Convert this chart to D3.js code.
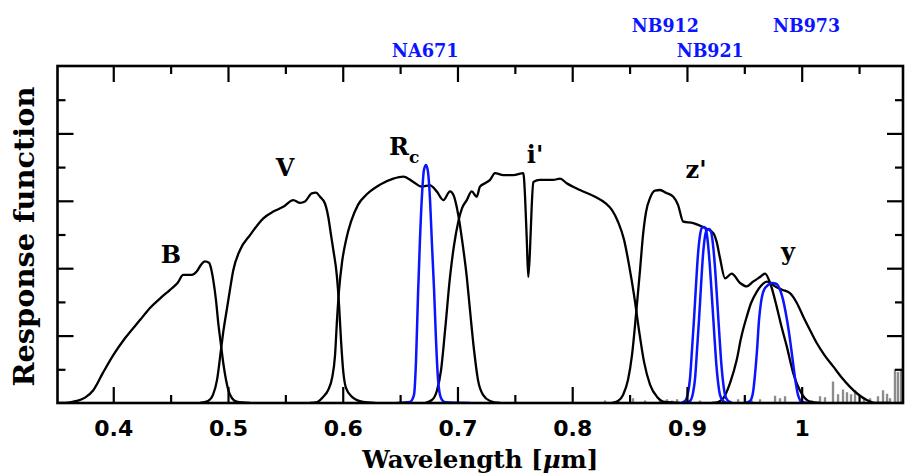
<!DOCTYPE html>
<html lang="en">
<head>
<meta charset="utf-8">
<title>Filter response functions</title>
<script src="https://d3js.org/d3.v7.min.js"></script>
<style>
  body { margin: 0; background: #fff; }
</style>
</head>
<body>
<script>
// Width and height
var w = 906, h = 474;
var plot = { l: 57.5, r: 903, t: 66, b: 403 };

// Data: [wavelength (um), response]
var bandB = [[0.3520,0],[0.3623,0.001],[0.3681,0.003],[0.3754,0.008],[0.3826,0.019],[0.3911,0.045],[0.4000,0.071],[0.4102,0.096],[0.4233,0.123],[0.4320,0.141],[0.4407,0.155],[0.4495,0.168],[0.4560,0.178],[0.4610,0.190],[0.4684,0.190],[0.4727,0.195],[0.4765,0.205],[0.4800,0.210],[0.4834,0.208],[0.4856,0.197],[0.4872,0.182],[0.4895,0.153],[0.4915,0.119],[0.4939,0.086],[0.4959,0.059],[0.4983,0.034],[0.5003,0.019],[0.5035,0.007],[0.5076,0.002],[0.5192,0]];
var bandV = [[0.4756,0],[0.4826,0.003],[0.4869,0.012],[0.4904,0.034],[0.4939,0.079],[0.4961,0.108],[0.4989,0.138],[0.5017,0.168],[0.5046,0.197],[0.5105,0.227],[0.5192,0.249],[0.5308,0.274],[0.5395,0.284],[0.5482,0.291],[0.5569,0.301],[0.5628,0.297],[0.5671,0.299],[0.5730,0.311],[0.5767,0.312],[0.5802,0.306],[0.5845,0.296],[0.5874,0.276],[0.5898,0.249],[0.5918,0.227],[0.5948,0.190],[0.5968,0.145],[0.5985,0.093],[0.6005,0.046],[0.6029,0.022],[0.6081,0.009],[0.6177,0.0015],[0.6281,0]];
var bandRc = [[0.5715,0],[0.5776,0.0015],[0.5829,0.009],[0.5872,0.019],[0.5907,0.037],[0.5933,0.071],[0.5950,0.123],[0.5968,0.168],[0.5994,0.209],[0.6029,0.242],[0.6072,0.269],[0.6133,0.294],[0.6212,0.310],[0.6325,0.324],[0.6441,0.333],[0.6528,0.336],[0.6615,0.328],[0.6688,0.321],[0.6761,0.323],[0.6819,0.314],[0.6877,0.301],[0.6935,0.314],[0.6964,0.309],[0.7007,0.279],[0.7040,0.242],[0.7081,0.187],[0.7109,0.138],[0.7144,0.079],[0.7179,0.034],[0.7223,0.012],[0.7284,0.003],[0.7371,0]];
var bandI = [[0.6717,0],[0.6778,0.0045],[0.6822,0.019],[0.6857,0.049],[0.6892,0.108],[0.6935,0.187],[0.6970,0.234],[0.7007,0.269],[0.7040,0.289],[0.7081,0.301],[0.7124,0.314],[0.7168,0.306],[0.7196,0.321],[0.7240,0.326],[0.7284,0.331],[0.7327,0.341],[0.7400,0.338],[0.7487,0.338],[0.7574,0.341],[0.7589,0.306],[0.7604,0.242],[0.7617,0.187],[0.7632,0.227],[0.7647,0.292],[0.7661,0.328],[0.7719,0.331],[0.7835,0.331],[0.7894,0.333],[0.7952,0.326],[0.8068,0.316],[0.8199,0.306],[0.8286,0.297],[0.8347,0.286],[0.8399,0.269],[0.8452,0.242],[0.8495,0.205],[0.8539,0.160],[0.8582,0.108],[0.8626,0.061],[0.8679,0.027],[0.8740,0.009],[0.8809,0.0015],[0.8940,0]];
var bandZ = [[0.8347,0],[0.8399,0.003],[0.8443,0.012],[0.8486,0.034],[0.8521,0.071],[0.8556,0.131],[0.8591,0.197],[0.8617,0.249],[0.8643,0.283],[0.8678,0.304],[0.8722,0.315],[0.8765,0.316],[0.8817,0.312],[0.8881,0.306],[0.8922,0.294],[0.8968,0.269],[0.9055,0.267],[0.9140,0.261],[0.9230,0.252],[0.9259,0.239],[0.9288,0.215],[0.9332,0.185],[0.9390,0.192],[0.9463,0.178],[0.9521,0.173],[0.9576,0.180],[0.9637,0.187],[0.9681,0.192],[0.9725,0.178],[0.9782,0.143],[0.9820,0.116],[0.9870,0.084],[0.9927,0.044],[1.0000,0.014],[1.0073,0.002],[1.0160,0]];
var bandY = [[0.9219,0],[0.9271,0.0015],[0.9317,0.007],[0.9376,0.030],[0.9434,0.064],[0.9471,0.096],[0.9521,0.128],[0.9558,0.148],[0.9608,0.165],[0.9646,0.174],[0.9695,0.180],[0.9733,0.178],[0.9768,0.173],[0.9829,0.168],[0.9898,0.163],[0.9959,0.148],[1.0014,0.128],[1.0073,0.108],[1.0131,0.089],[1.0203,0.070],[1.0276,0.054],[1.0343,0.039],[1.0421,0.024],[1.0491,0.013],[1.0567,0.0045],[1.0654,0],[1.0770,0]];

var na671 = [[0.6473,0],[0.6586,0.0015],[0.6621,0.012],[0.6639,0.064],[0.6656,0.160],[0.6673,0.242],[0.6691,0.309],[0.6708,0.346],[0.6726,0.353],[0.6743,0.343],[0.6761,0.301],[0.6778,0.234],[0.6796,0.168],[0.6813,0.093],[0.6831,0.034],[0.6857,0.007],[0.6892,0.001],[0.7109,0]];
var nb912 = [[0.8948,0],[0.8983,0.003],[0.9009,0.015],[0.9027,0.037],[0.9044,0.079],[0.9062,0.126],[0.9079,0.175],[0.9096,0.220],[0.9114,0.249],[0.9131,0.260],[0.9149,0.261],[0.9166,0.257],[0.9183,0.237],[0.9201,0.200],[0.9218,0.156],[0.9236,0.108],[0.9253,0.064],[0.9271,0.031],[0.9288,0.012],[0.9314,0.003],[0.9349,0]];
var nb921 = [[0.8992,0],[0.9027,0.003],[0.9053,0.015],[0.9071,0.037],[0.9088,0.079],[0.9106,0.126],[0.9123,0.175],[0.9140,0.220],[0.9158,0.248],[0.9175,0.257],[0.9193,0.258],[0.9210,0.254],[0.9227,0.235],[0.9245,0.200],[0.9262,0.156],[0.9280,0.108],[0.9297,0.064],[0.9315,0.031],[0.9332,0.012],[0.9358,0.003],[0.9393,0]];
var nb973 = [[0.9506,0],[0.9550,0.003],[0.9576,0.016],[0.9593,0.042],[0.9611,0.079],[0.9628,0.123],[0.9646,0.150],[0.9672,0.168],[0.9707,0.175],[0.9742,0.178],[0.9777,0.177],[0.9811,0.168],[0.9838,0.153],[0.9864,0.131],[0.9890,0.104],[0.9916,0.071],[0.9942,0.037],[0.9968,0.012],[1.0003,0.0015],[1.0055,0]];

// sky noise spikes along the bottom [wavelength, height]
var skySpikes = [[0.8286,0.003],[0.8400,0.002],[0.8530,0.006],[0.8635,0.003],[0.8765,0.003],[0.8826,0.0045],[0.8870,0.003],[0.8914,0.0045],[0.9027,0.003],[0.9114,0.003],[0.9376,0.003],[0.9446,0.0045],[0.9506,0.006],[0.9567,0.003],[0.9637,0.0045],[0.9768,0.010],[0.9811,0.006],[0.9855,0.009],[0.9985,0.0045],[1.0090,0.003],[1.0160,0.009],[1.0203,0.0075],[1.0273,0.031],[1.0317,0.012],[1.0360,0.019],[1.0395,0.015],[1.0430,0.012],[1.0465,0.018],[1.0543,0.0045],[1.0596,0.006],[1.0665,0.009],[1.0709,0.018],[1.0744,0.013],[1.0770,0.006],[1.0813,0.049],[1.0839,0.045],[1.0866,0.049]];

// ticks
var xMajor = [0.4, 0.5, 0.6, 0.7, 0.8, 0.9, 1.0];
var xMinor = [0.45, 0.55, 0.65, 0.75, 0.85, 0.95, 1.05];
var xTickLabels = ["0.4", "0.5", "0.6", "0.7", "0.8", "0.9", "1"];
var yMajor = [0.1, 0.2, 0.3, 0.4];
var yMinor = [0.05, 0.15, 0.25, 0.35, 0.45];

// labels: [text, wavelength, response]
var broadLabels = [["B", 0.4503, 0.208], ["V", 0.5497, 0.337], ["R", 0.6482, 0.368], ["i'", 0.7676, 0.356], ["z'", 0.9079, 0.334], ["y", 0.9881, 0.212]];
// narrow-band names: [text, wavelength of left edge, row]
var narrowLabels = [["NA671", 0.6427, 1], ["NB912", 0.8519, 0], ["NB921", 0.8911, 1], ["NB973", 0.9750, 0]];

var x = d3.scaleLinear().domain([0.3514, 1.0883]).range([plot.l, plot.r]);
var y = d3.scaleLinear().domain([0, 0.5]).range([plot.b, plot.t]);

var svg = d3.select("body").append("svg")
    .attr("width", w)
    .attr("height", h);

svg.append("clipPath").attr("id", "clip")
    .append("rect")
    .attr("x", plot.l).attr("y", plot.t)
    .attr("width", plot.r - plot.l).attr("height", plot.b - plot.t);

var line = d3.line()
    .x(function(d) { return x(d[0]); })
    .y(function(d) { return y(d[1]); })
    .curve(d3.curveMonotoneX);

var curves = svg.append("g").attr("clip-path", "url(#clip)");

// gray spikes as thin bars sitting on the baseline
var noisePts = [[0.81, 0]];
skySpikes.forEach(function(s) {
    noisePts.push([s[0] - 0.0005, 0], [s[0] - 0.0005, s[1]], [s[0] + 0.0005, s[1]], [s[0] + 0.0005, 0]);
});
noisePts.push([1.09, 0]);
curves.append("path")
    .attr("d", d3.line().x(function(d) { return x(d[0]); }).y(function(d) { return y(d[1]); })(noisePts))
    .attr("fill", "none")
    .attr("stroke", "#8c8c8c")
    .attr("stroke-width", 1.2);

[bandB, bandV, bandRc, bandI, bandZ, bandY].forEach(function(b) {
    curves.append("path")
        .attr("d", line(b))
        .attr("fill", "none")
        .attr("stroke", "#000")
        .attr("stroke-width", 2.3)
        .attr("stroke-linejoin", "round");
});

[na671, nb912, nb921, nb973].forEach(function(b) {
    curves.append("path")
        .attr("d", line(b))
        .attr("fill", "none")
        .attr("stroke", "#0a14ff")
        .attr("stroke-width", 2.5)
        .attr("stroke-linejoin", "round");
});

// axes, all ticks pointing in
function tidy(g) {
    g.select(".domain").remove();
    g.selectAll(".tick line").attr("stroke", "#000").attr("stroke-width", 2.2);
}

svg.append("g").attr("transform", "translate(0," + plot.b + ")")
    .call(d3.axisBottom(x).tickValues(xMajor).tickSize(-16).tickPadding(17)
        .tickFormat(function(d, i) { return xTickLabels[i]; }))
    .call(tidy)
    .selectAll("text")
    .attr("fill", "#000")
    .style("font-family", "'DejaVu Sans', sans-serif")
    .style("font-weight", "bold")
    .style("font-size", "22px");
svg.append("g").attr("transform", "translate(0," + plot.b + ")")
    .call(d3.axisBottom(x).tickValues(xMinor).tickSize(-8).tickFormat("")).call(tidy);
svg.append("g").attr("transform", "translate(0," + plot.t + ")")
    .call(d3.axisTop(x).tickValues(xMajor).tickSize(-16).tickFormat("")).call(tidy);
svg.append("g").attr("transform", "translate(0," + plot.t + ")")
    .call(d3.axisTop(x).tickValues(xMinor).tickSize(-8).tickFormat("")).call(tidy);
svg.append("g").attr("transform", "translate(" + plot.l + ",0)")
    .call(d3.axisLeft(y).tickValues(yMajor).tickSize(-16).tickFormat("")).call(tidy);
svg.append("g").attr("transform", "translate(" + plot.l + ",0)")
    .call(d3.axisLeft(y).tickValues(yMinor).tickSize(-8).tickFormat("")).call(tidy);
svg.append("g").attr("transform", "translate(" + plot.r + ",0)")
    .call(d3.axisRight(y).tickValues(yMajor).tickSize(-16).tickFormat("")).call(tidy);
svg.append("g").attr("transform", "translate(" + plot.r + ",0)")
    .call(d3.axisRight(y).tickValues(yMinor).tickSize(-8).tickFormat("")).call(tidy);

// frame
svg.append("rect")
    .attr("x", plot.l).attr("y", plot.t)
    .attr("width", plot.r - plot.l).attr("height", plot.b - plot.t)
    .attr("fill", "none")
    .attr("stroke", "#000")
    .attr("stroke-width", 2.6);

// axis titles
var xt = svg.append("text")
    .attr("x", (plot.l + plot.r) / 2)
    .attr("y", 468)
    .attr("text-anchor", "middle")
    .attr("font-family", "'DejaVu Serif', serif")
    .attr("font-weight", "bold")
    .attr("font-size", 24)
    .attr("textLength", 236)
    .attr("lengthAdjust", "spacingAndGlyphs")
    .text("Wavelength [");
xt.append("tspan").attr("font-style", "italic").text("μ");
xt.append("tspan").text("m]");

svg.append("text")
    .attr("transform", "translate(34," + ((plot.t + plot.b) / 2 + 2) + ") rotate(-90)")
    .attr("text-anchor", "middle")
    .attr("font-family", "'DejaVu Serif', serif")
    .attr("font-weight", "bold")
    .attr("font-size", 27)
    .attr("textLength", 300)
    .attr("lengthAdjust", "spacingAndGlyphs")
    .text("Response function");

// filter names
broadLabels.forEach(function(l) {
    var t = svg.append("text")
        .attr("x", x(l[1]))
        .attr("y", y(l[2]))
        .attr("text-anchor", "middle")
        .attr("font-family", "'DejaVu Serif', serif")
        .attr("font-weight", "bold")
        .attr("font-size", 24)
        .text(l[0]);
    if (l[0] === "R") {
        t.attr("text-anchor", "start").attr("x", x(l[1]) - 9);
        t.append("tspan").attr("dy", 8).attr("font-size", 17).text("c");
    }
});

narrowLabels.forEach(function(l) {
    svg.append("text")
        .attr("x", x(l[1]))
        .attr("y", l[2] ? 56.5 : 31.5)
        .attr("font-family", "'DejaVu Serif', serif")
        .attr("font-weight", "bold")
        .attr("font-size", 19)
        .attr("textLength", 67)
        .attr("lengthAdjust", "spacingAndGlyphs")
        .attr("fill", "#0a14ff")
        .text(l[0]);
});
</script>
</body>
</html>
